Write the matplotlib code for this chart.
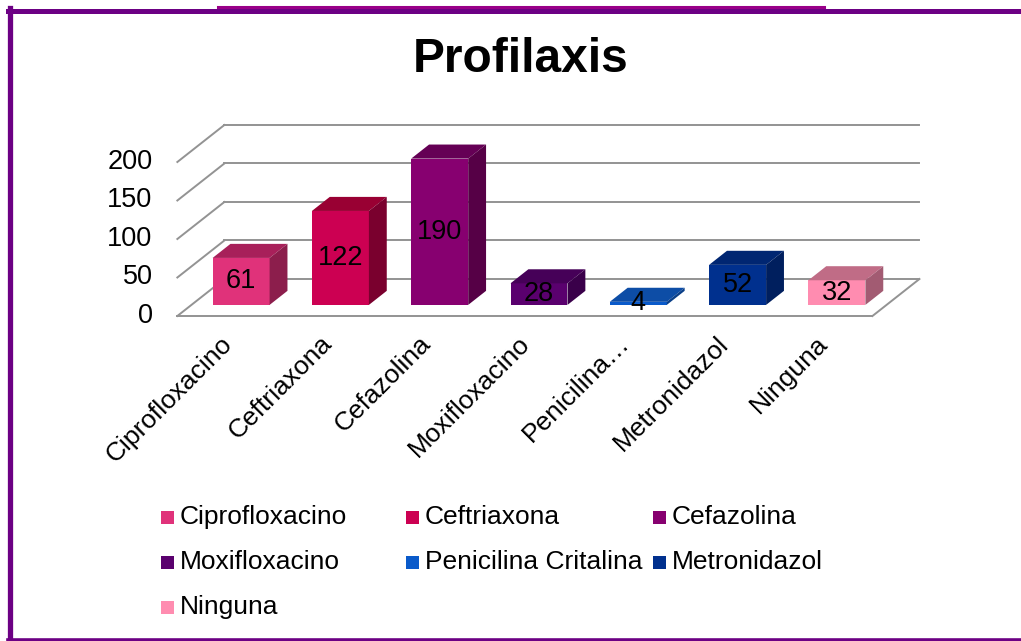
import matplotlib
matplotlib.use("Agg")
import matplotlib.pyplot as plt
from matplotlib.patches import Polygon, Rectangle
from matplotlib.lines import Line2D

# data
categorias = ["Ciprofloxacino", "Ceftriaxona", "Cefazolina", "Moxifloxacino",
              "Penicilina Critalina", "Metronidazol", "Ninguna"]
etiquetas_eje = ["Ciprofloxacino", "Ceftriaxona", "Cefazolina", "Moxifloxacino",
                 "Penicilina\u2026", "Metronidazol", "Ninguna"]
valores = [61, 122, 190, 28, 4, 52, 32]
ticks_y = [0, 50, 100, 150, 200]

# colores: frente, tapa, lado
c_frente = ["#E0327A", "#CC0052", "#870070", "#5A006E", "#0A5ACA", "#00308E", "#FF8CB0"]
c_tapa = ["#A8205A", "#990033", "#650055", "#460058", "#0D4DA6", "#002672", "#C06C86"]
c_lado = ["#8C1E4C", "#7A002E", "#560046", "#3A004A", "#0A3F88", "#001F5E", "#A25B72"]

W, H = 1021, 641
fig = plt.figure(figsize=(W / 100, H / 100), dpi=100)
fig.patch.set_facecolor("white")
fuente = "Liberation Sans"
fs = 19.5

# axes en todo el lienzo, escala: 1 categoria = 99.3 px, 1 unidad = 0.77 px
px_cat, px_val = 99.3, 0.77
x0_px, y0_px = 227, 316
ax = fig.add_axes([0, 0, 1, 1])
ax.set_xlim(-x0_px / px_cat, (W - x0_px) / px_cat)
ax.set_ylim(-(H - y0_px) / px_val, y0_px / px_val)
ax.axis("off")

DX = 47 / px_cat   # profundidad total (oblicua)
DY = 37 / px_val
f_ini, f_prof = 0.3, 0.38
ancho = 0.574
n = len(categorias)
gris = "#939393"

# paredes / rejilla
for v in ticks_y:
    ax.plot([-0.5 + DX, n - 0.5 + DX], [v + DY, v + DY], color=gris, lw=1.4, zorder=1)
    ax.plot([-0.5, -0.5 + DX], [v, v + DY], color=gris, lw=1.4, zorder=1)
    ax.text(-0.75, v, str(v), ha="right", va="center", fontsize=fs, family=fuente)
ax.plot([-0.5, n - 0.5], [0, 0], color=gris, lw=1.4, zorder=1)
ax.plot([n - 0.5, n - 0.5 + DX], [0, DY], color=gris, lw=1.4, zorder=1)

# barras
xs = [i + f_ini * DX for i in range(n)]
base = f_ini * DY
bars = ax.bar(xs, valores, width=ancho, bottom=base, color=c_frente, zorder=3)
for i, b in enumerate(bars):
    xl, xr = b.get_x(), b.get_x() + b.get_width()
    top = b.get_y() + b.get_height()
    dx, dy = f_prof * DX, f_prof * DY
    ax.add_patch(Polygon([(xl, top), (xr, top), (xr + dx, top + dy), (xl + dx, top + dy)],
                         closed=True, facecolor=c_tapa[i], edgecolor="none", zorder=3))
    ax.add_patch(Polygon([(xr, b.get_y()), (xr, top), (xr + dx, top + dy), (xr + dx, b.get_y() + dy)],
                         closed=True, facecolor=c_lado[i], edgecolor="none", zorder=3))
    ax.text(xs[i], base + valores[i] / 2, str(valores[i]), ha="center", va="center",
            fontsize=fs, family=fuente, zorder=5)

# etiquetas de categoria
for i, lab in enumerate(etiquetas_eje):
    ax.text(i - 0.07, -20, lab, rotation=45, ha="right", va="top",
            rotation_mode="anchor", fontsize=19, family=fuente)

# titulo
fig.text(521 / W, 1 - 59 / H, "Profilaxis", ha="center", va="center",
         fontsize=34.5, fontweight="bold", family=fuente)

# leyenda (3 columnas, por filas)
col_x = [161, 406, 653]
for k, (nom, col) in enumerate(zip(categorias, c_frente)):
    fila, columna = divmod(k, 3)
    xm = col_x[columna]
    ym = 517 + 45 * fila
    fig.patches.append(Rectangle((xm / W, 1 - (ym + 6.5) / H), 13 / W, 13 / H,
                                 transform=fig.transFigure, facecolor=col,
                                 edgecolor="none"))
    fig.text((xm + 19) / W, 1 - ym / H, nom, ha="left", va="center",
             fontsize=19, family=fuente)

# marco
morado = "#6C0084"
fig.lines.append(Line2D([10 / W, 10 / W], [0, 1 - 8 / H], transform=fig.transFigure,
                        color=morado, lw=3.8))
fig.lines.append(Line2D([8 / W, 1], [1 - 10.5 / H, 1 - 10.5 / H], transform=fig.transFigure,
                        color=morado, lw=3.6))
fig.lines.append(Line2D([218 / W, 824 / W], [1 - 6.5 / H, 1 - 6.5 / H], transform=fig.transFigure,
                        color="#990088", lw=2.2))
fig.lines.append(Line2D([8 / W, 1], [1.5 / H, 1.5 / H], transform=fig.transFigure,
                        color=morado, lw=2.6))

fig.savefig("out.png", dpi=100)
